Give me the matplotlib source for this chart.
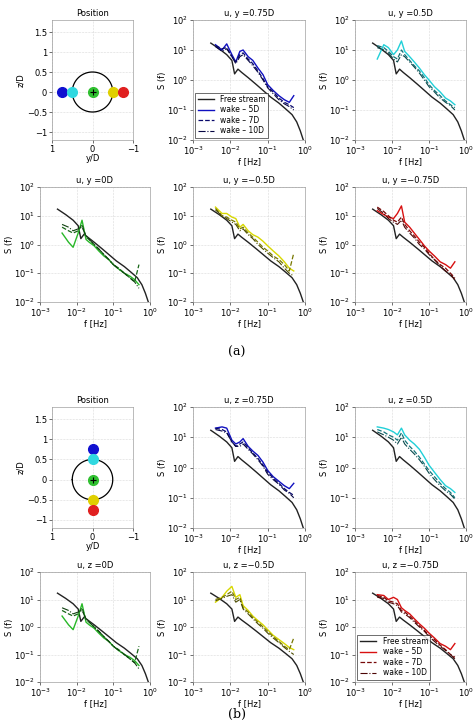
import numpy as np
import matplotlib
matplotlib.use("Agg")
import matplotlib.pyplot as plt
from matplotlib.colors import to_rgb

plt.rcParams['font.family'] = ['DejaVu Sans']
plt.rcParams['font.size'] = 6

# free stream spectrum (shared)
f_free = [0.003, 0.005, 0.008, 0.011, 0.013, 0.016, 0.02, 0.03, 0.05, 0.08, 0.12, 0.2, 0.3, 0.45, 0.6, 0.75, 0.9]
s_free = [17, 11, 7, 4.5, 1.6, 2.3, 1.8, 1.2, 0.7, 0.42, 0.27, 0.17, 0.11, 0.07, 0.04, 0.02, 0.01]

# wake spectra on a common frequency grid
f_wake = [0.004, 0.006, 0.008, 0.011, 0.014, 0.018, 0.022, 0.03, 0.04, 0.055, 0.075, 0.1, 0.14, 0.2, 0.28, 0.38, 0.5]

wake = {
    "y075": ([15, 10, 16, 7, 4, 9, 10, 6, 4.5, 2.5, 1.5, 0.7, 0.45, 0.3, 0.22, 0.18, 0.3],
             [14, 11, 12, 6, 4, 7, 8, 5, 3.5, 2, 1.1, 0.6, 0.4, 0.25, 0.18, 0.15, 0.12],
             [13, 9, 11, 6, 3.5, 6, 7, 4.5, 3, 1.8, 1, 0.55, 0.35, 0.22, 0.16, 0.13, 0.1]),
    "y05": ([5, 15, 12, 7, 10, 20, 9, 6, 4, 2.5, 1.5, 1, 0.6, 0.4, 0.25, 0.2, 0.15],
            [14, 12, 9, 6, 5, 10, 7, 4.5, 3, 2, 1.2, 0.7, 0.45, 0.3, 0.2, 0.15, 0.12],
            [12, 10, 8, 5, 4, 7, 6, 4, 2.7, 1.7, 1, 0.6, 0.4, 0.25, 0.18, 0.14, 0.1]),
    "y0": ([2.5, 1.2, 0.8, 2.5, 7, 1.5, 1.2, 0.9, 0.6, 0.4, 0.3, 0.2, 0.14, 0.1, 0.08, 0.06, 0.04],
           [4, 3, 2.5, 3, 5, 1.8, 1.5, 1, 0.7, 0.45, 0.3, 0.2, 0.15, 0.1, 0.07, 0.05, 0.2],
           [5, 4, 3, 3.5, 4, 2, 1.5, 1, 0.7, 0.45, 0.3, 0.2, 0.14, 0.1, 0.07, 0.05, 0.03]),
    "ym05": ([20, 12, 12, 9, 8, 4, 5, 3, 2.2, 1.8, 1.3, 0.9, 0.6, 0.4, 0.25, 0.15, 0.12],
             [18, 10, 9, 7, 6, 3.5, 4, 2.5, 1.8, 1.2, 0.8, 0.6, 0.4, 0.3, 0.2, 0.12, 0.5],
             [16, 10, 8, 6, 5, 3, 3.5, 2.2, 1.6, 1, 0.7, 0.5, 0.35, 0.25, 0.15, 0.1, 0.08]),
    "ym075": ([15, 11, 9, 8, 12, 22, 6, 4, 2.5, 1.5, 0.9, 0.6, 0.4, 0.25, 0.2, 0.15, 0.25],
              [20, 14, 10, 7, 6, 9, 5, 3, 2, 1.2, 0.8, 0.5, 0.3, 0.2, 0.15, 0.1, 0.07],
              [18, 12, 8, 6, 5, 7, 4, 2.5, 1.7, 1, 0.7, 0.45, 0.3, 0.18, 0.12, 0.09, 0.06]),
    "z075": ([20, 22, 20, 8, 6, 7, 9, 5, 3.5, 2.5, 1.5, 0.8, 0.5, 0.35, 0.25, 0.2, 0.3],
             [20, 18, 15, 7, 5, 6, 7, 4.5, 3, 2, 1.2, 0.7, 0.45, 0.3, 0.2, 0.15, 0.12],
             [18, 16, 14, 7, 5, 5, 6, 4, 2.8, 1.8, 1.1, 0.6, 0.4, 0.28, 0.18, 0.14, 0.1]),
    "z05": ([22, 20, 18, 15, 12, 20, 12, 8, 6, 4, 2.2, 1.2, 0.7, 0.4, 0.25, 0.2, 0.15],
            [18, 15, 12, 10, 8, 14, 8, 5, 3.5, 2.2, 1.3, 0.8, 0.5, 0.3, 0.2, 0.15, 0.1],
            [15, 12, 10, 8, 6, 10, 6, 4, 2.8, 1.8, 1.1, 0.65, 0.4, 0.25, 0.17, 0.13, 0.09]),
    "zm05": ([8, 12, 20, 30, 12, 15, 6, 4, 2.5, 1.7, 1.2, 0.8, 0.5, 0.35, 0.25, 0.18, 0.15],
             [10, 12, 15, 20, 10, 12, 5, 3.5, 2.2, 1.5, 1, 0.7, 0.45, 0.3, 0.2, 0.15, 0.4],
             [9, 11, 13, 15, 8, 10, 4.5, 3, 2, 1.3, 0.9, 0.6, 0.4, 0.27, 0.18, 0.13, 0.1]),
    "zm075": ([15, 14, 10, 12, 10, 5, 4, 3, 2, 1.3, 0.9, 0.6, 0.4, 0.25, 0.2, 0.15, 0.25],
              [14, 12, 9, 8, 7, 4, 3.5, 2.5, 1.7, 1.1, 0.75, 0.5, 0.35, 0.22, 0.15, 0.1, 0.08],
              [12, 11, 8, 7, 6, 3.5, 3, 2.2, 1.5, 1, 0.7, 0.45, 0.3, 0.2, 0.14, 0.1, 0.07]),
}

pos_vals = [0.75, 0.5, 0.0, -0.5, -0.75]
pos_colors = ['#1010d0', '#30d8e0', '#30c030', '#e0d000', '#e02020']
line_colors = ['#1010c0', '#20d0d8', '#28b828', '#d8d800', '#d81010']

titles_a = ["u, y =0.75D", "u, y =0.5D", "u, y =0D", "u, y =\u22120.5D", "u, y =\u22120.75D"]
titles_b = ["u, z =0.75D", "u, z =0.5D", "u, z =0D", "u, z =\u22120.5D", "u, z =\u22120.75D"]
keys_a = ["y075", "y05", "y0", "ym05", "ym075"]
keys_b = ["z075", "z05", "y0", "zm05", "zm075"]

W, H = 474, 722
fig = plt.figure(figsize=(W / 100, H / 100), dpi=100)


def ax_px(x0, y0, x1, y1):
    return fig.add_axes([x0 / W, 1 - y1 / H, (x1 - x0) / W, (y1 - y0) / H])


def shade(c, k):
    r = np.array(to_rgb(c))
    return tuple(r * k)


def style(ax):
    ax.grid(True, ls=':', lw=0.4, color='#bbbbbb')
    ax.tick_params(length=2, width=0.4, pad=1.5, labelsize=6)
    for s in ax.spines.values():
        s.set_linewidth(0.4)
        s.set_color('#888888')


def position(ax, vertical):
    t = np.linspace(0, 2 * np.pi, 200)
    ax.plot(0.5 * np.cos(t), 0.5 * np.sin(t), color='k', lw=0.9)
    for v, c in zip(pos_vals, pos_colors):
        x, y = (0, v) if vertical else (v, 0)
        ax.plot(x, y, 'o', ms=7, color=c, mec=c)
    ax.plot(0, 0, '+', color='k', ms=5, mew=0.8)
    ax.set_xlim(1, -1)
    ax.set_ylim(-1.2, 1.8)
    ax.set_xticks([1, 0, -1])
    ax.set_xticklabels(['1', '0', '\u22121'])
    ax.set_yticks([-1, -0.5, 0, 0.5, 1, 1.5])
    ax.set_yticklabels(['\u22121', '\u22120.5', '0', '0.5', '1', '1.5'])
    ax.set_xlabel('y/D', labelpad=0)
    ax.set_ylabel('z/D', labelpad=1)
    ax.set_title('Position', fontsize=6, pad=3)
    style(ax)


def spectrum(ax, key, title, col, legend):
    s5, s7, s10 = wake[key]
    ax.loglog(f_free, s_free, color='#222222', lw=1.0, label='Free stream')
    ax.loglog(f_wake, s5, color=col, lw=1.0, label='wake \u2013 5D')
    ax.loglog(f_wake, s7, color=shade(col, 0.55), lw=0.9, ls='--', label='wake \u2013 7D')
    ax.loglog(f_wake, s10, color=shade(col, 0.35), lw=0.8, ls='-.', label='wake \u2013 10D')
    ax.set_xlim(1e-3, 1)
    ax.set_ylim(1e-2, 1e2)
    ax.set_title(title, fontsize=6, pad=3)
    ax.set_xlabel('f [Hz]', labelpad=0)
    ax.set_ylabel('S (f)', labelpad=0)
    style(ax)
    ax.minorticks_off()
    if legend:
        ax.legend(loc='lower left', fontsize=5.5, frameon=True, fancybox=False,
                  edgecolor='k', handlelength=2.2, borderpad=0.3, labelspacing=0.2,
                  borderaxespad=0.3).get_frame().set_linewidth(0.5)


cols_x = [(40, 150), (193, 305), (355, 466)]
rows = {'a': [(20, 140), (187, 302)], 'b': [(407, 528), (572, 682)]}

for panel, keys, titles, leg_idx, vertical in [('a', keys_a, titles_a, 0, False),
                                                ('b', keys_b, titles_b, 4, True)]:
    r0, r1 = rows[panel]
    position(ax_px(52, r0[0], 133, r0[1]), vertical)
    slots = [(r0, cols_x[1]), (r0, cols_x[2]), (r1, cols_x[0]), (r1, cols_x[1]), (r1, cols_x[2])]
    for i, ((ry0, ry1), (cx0, cx1)) in enumerate(slots):
        ax = ax_px(cx0, ry0, cx1, ry1)
        spectrum(ax, keys[i], titles[i], line_colors[i], i == leg_idx)

fig.text(237 / W, 1 - 352 / H, '(a)', ha='center', va='center', fontsize=9, family='DejaVu Serif')
fig.text(237 / W, 1 - 714 / H, '(b)', ha='center', va='center', fontsize=9, family='DejaVu Serif')

fig.savefig('out.png', dpi=100)
